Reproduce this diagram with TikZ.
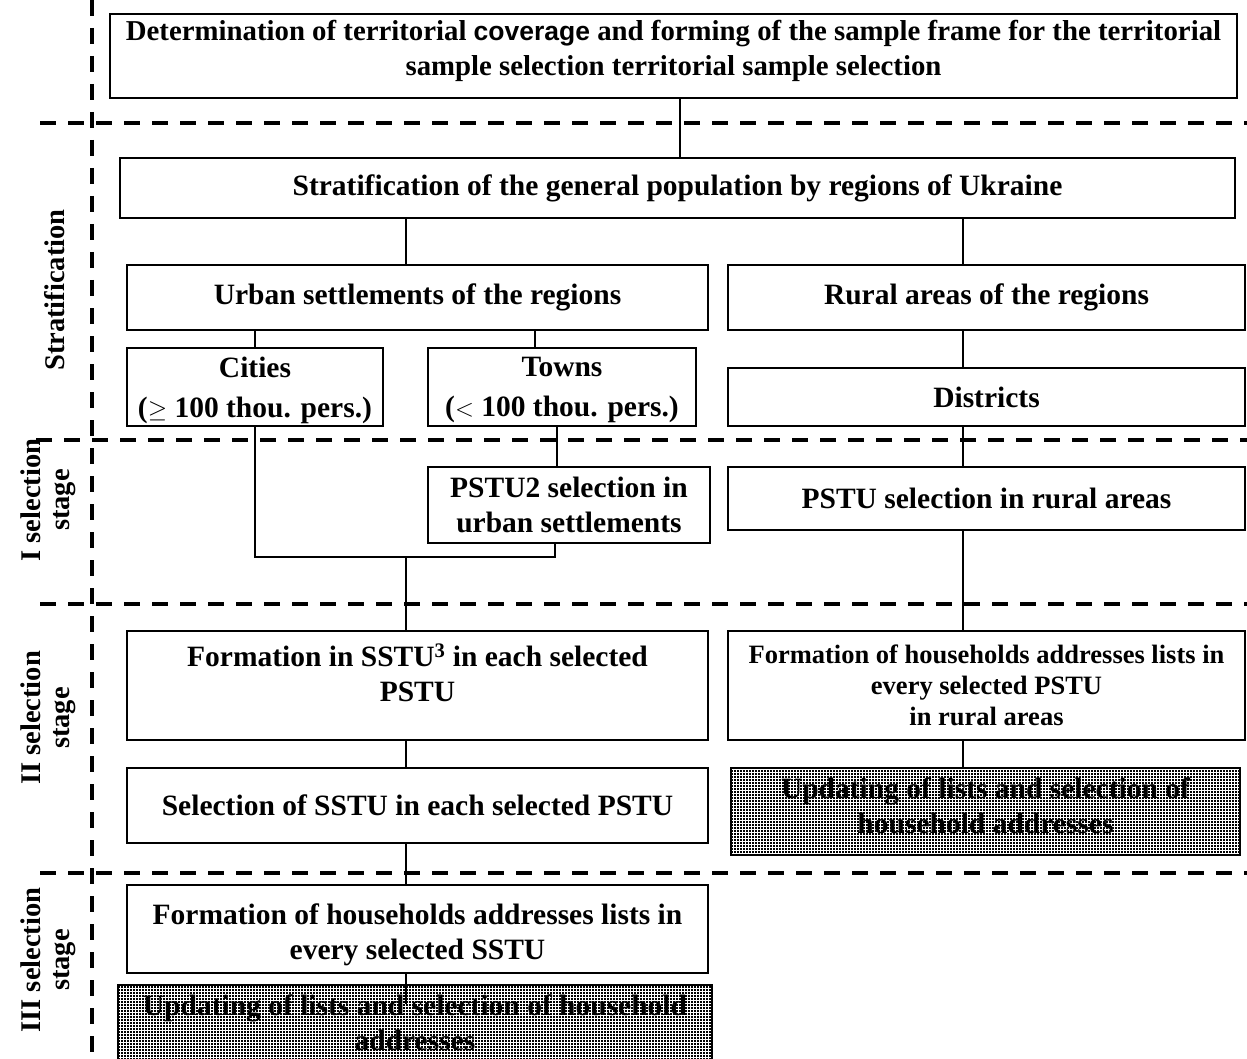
\documentclass[tikz,border=0pt]{standalone}
\usepackage{fontspec}
\setmainfont{Liberation Serif}
\newfontfamily\arialfont{Liberation Sans}
\usetikzlibrary{patterns}
\pgfdeclarepatternformonly{sqdots}{\pgfpointorigin}{\pgfpoint{3.4pt}{3.4pt}}{\pgfpoint{3.4pt}{3.4pt}}{\pgfpathrectangle{\pgfpointorigin}{\pgfpoint{2.1pt}{2.1pt}}\pgfusepath{fill}}
\begin{document}
\begin{tikzpicture}[x=1pt,y=-1pt,
  box/.style={draw, line width=1.8pt, rectangle, inner sep=0pt, align=center,
    font=\bfseries\fontsize{29.5}{35}\selectfont},
  smallbox/.style={box, font=\bfseries\fontsize{26.5}{31}\selectfont},
  dotbox/.style={box, pattern=sqdots},
  txt/.style={inner sep=0pt, align=center, font=\bfseries\fontsize{29.5}{35}\selectfont},
  lbl/.style={inner sep=0pt, align=center, rotate=90, font=\bfseries\fontsize{28.5}{29}\selectfont},
  conn/.style={line width=1.4pt},
  sep/.style={line width=4pt, dash pattern=on 16pt off 12pt}]
\clip (0,0) rectangle (1247,1059);
\fill[white] (0,0) rectangle (1247,1059);

% separators
\draw[sep] (92,0) -- (92,1059);
\draw[sep] (40,123) -- (1247,123);
\draw[sep] (36,440) -- (1247,440);
\draw[sep] (40,604) -- (1247,604);
\draw[sep] (40,873) -- (1247,873);

% stage labels
\node[lbl] (lstrat) at (55,290) {Stratification};
\node[lbl] (lone) at (48,500) {I selection\\stage};
\node[lbl] (ltwo) at (48,718) {II selection\\stage};
\node[lbl] (lthree) at (48,960) {III selection\\stage};

% boxes
\node[box, minimum width=1127pt, minimum height=84pt] (top) at (673.5,56) {};
\node[txt, font=\bfseries\fontsize{28.8}{35}\selectfont] (toptext) at (673.5,51)
  {Determination of territorial {\arialfont\bfseries\fontsize{26.5}{35}\selectfont coverage} and forming of the sample frame for the territorial\\sample selection territorial sample selection};
\node[box, minimum width=1115pt, minimum height=60pt] (strat) at (677.5,188)
  {Stratification of the general population by regions of Ukraine};
\node[box, minimum width=581pt, minimum height=65pt] (urban) at (417.5,297.5)
  {Urban settlements of the regions};
\node[box, minimum width=517pt, minimum height=65pt] (rural) at (986.5,297.5)
  {Rural areas of the regions};
\node[box, minimum width=256pt, minimum height=78pt] (cities) at (255,387) {};
\node[txt] (citiestext) at (255,390) {Cities\\[5pt](\(\geq\) 100 thou. pers.)};
\node[box, minimum width=268pt, minimum height=78pt] (towns) at (562,387) {};
\node[txt] (townstext) at (562,390) {Towns\\[5pt](\(<\) 100 thou. pers.)};
\node[box, minimum width=517pt, minimum height=58pt] (districts) at (986.5,397)
  {Districts};
\node[box, minimum width=282pt, minimum height=76pt] (pstu2) at (569,505)
  {PSTU2 selection in\\urban settlements};
\node[box, minimum width=517pt, minimum height=63pt] (pstur) at (986.5,498.5)
  {PSTU selection in rural areas};
\node[box, minimum width=581pt, minimum height=109pt] (formS) at (417.5,685.5) {};
\node[txt] (formStext) at (417.5,673) {Formation in SSTU\textsuperscript{3} in each selected\\PSTU};
\node[smallbox, minimum width=517pt, minimum height=109pt] (formR) at (986.5,685.5)
  {Formation of households addresses lists in\\every selected PSTU\\in rural areas};
\node[box, minimum width=581pt, minimum height=75pt] (selS) at (417.5,805.5)
  {Selection of SSTU in each selected PSTU};
\node[dotbox, minimum width=509pt, minimum height=87pt] (updR) at (985.5,811.5) {};
\node[txt] (updRtext) at (985.5,806) {Updating of lists and selection of\\household addresses};
\node[box, minimum width=581pt, minimum height=88pt] (formH) at (417.5,929) {};
\node[txt] (formHtext) at (417.5,935) {Formation of households addresses lists in\\every selected SSTU};
\node[dotbox, minimum width=594pt, minimum height=90pt] (updS) at (415,1030) {};
\node[txt] (updStext) at (415,1023) {Updating of lists and selection of household\\addresses};

% connectors
\coordinate (join) at (406,557);
\draw[conn] (top.south -| 680,0) -- (strat.north -| 680,0);
\draw[conn] (strat.south -| 406,0) -- (urban.north -| 406,0);
\draw[conn] (strat.south -| 963,0) -- (rural.north -| 963,0);
\draw[conn] (urban.south -| 255,0) -- (cities.north -| 255,0);
\draw[conn] (urban.south -| 535,0) -- (towns.north -| 535,0);
\draw[conn] (rural.south -| 963,0) -- (districts.north -| 963,0);
\draw[conn] (districts.south -| 963,0) -- (pstur.north -| 963,0);
\draw[conn] (towns.south -| 557,0) -- (pstu2.north -| 557,0);
\draw[conn] (cities.south -| 255,0) |- (join) -| (pstu2.south -| 555,0);
\draw[conn] (join) -- (formS.north -| join);
\draw[conn] (pstur.south -| 963,0) -- (formR.north -| 963,0);
\draw[conn] (formS.south -| 406,0) -- (selS.north -| 406,0);
\draw[conn] (formR.south -| 963,0) -- (updR.north -| 963,0);
\draw[conn] (selS.south -| 406,0) -- (formH.north -| 406,0);
\coordinate (updSend) at (406,1004);
\draw[conn] (formH.south -| 406,0) -- (updSend);
\end{tikzpicture}
\end{document}
